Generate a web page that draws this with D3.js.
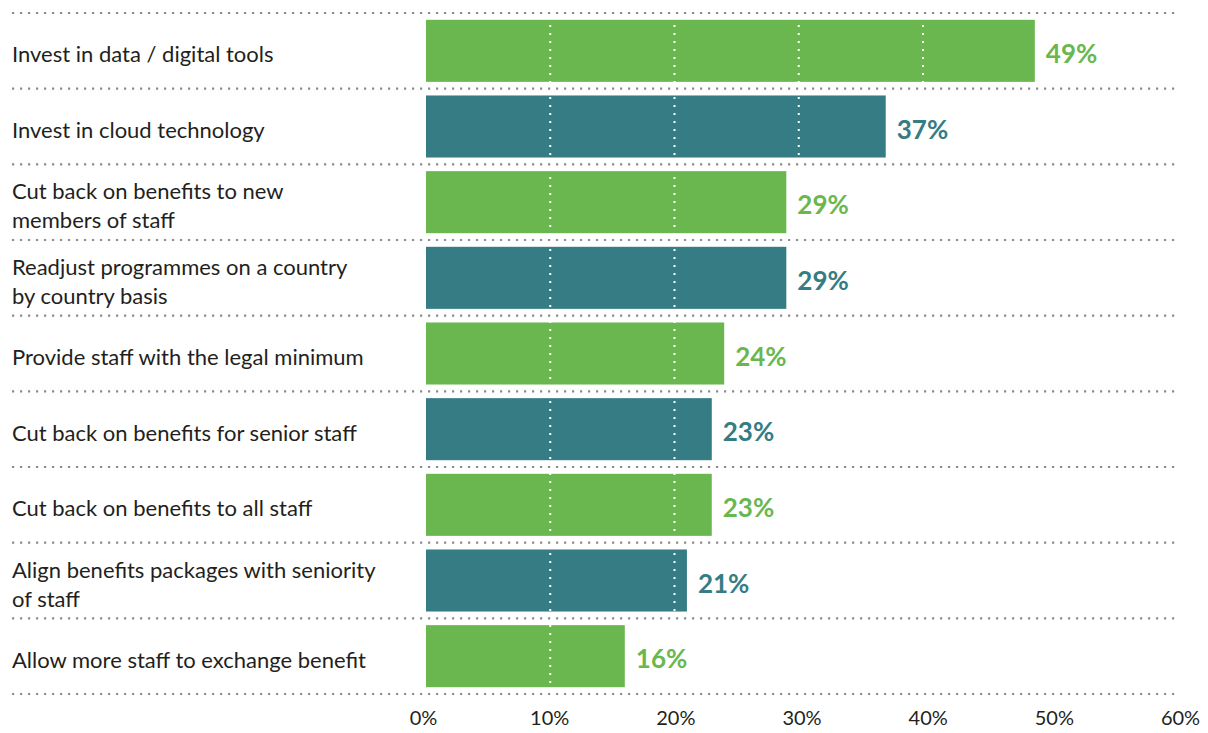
<!DOCTYPE html>
<html>
<head>
<meta charset="utf-8">
<script src="https://cdn.jsdelivr.net/npm/d3@7/dist/d3.min.js"></script>
<style>
  html, body { margin: 0; padding: 0; background: #fff; }
  svg { display: block; }
  text { font-family: Lato, "Open Sans", sans-serif; }
</style>
</head>
<body>
<svg id="chart" width="1208" height="733"></svg>
<script>
// Survey responses: share of organisations planning each action
const categories = [
  "Invest in data / digital tools",
  "Invest in cloud technology",
  "Cut back on benefits to new\nmembers of staff",
  "Readjust programmes on a country\nby country basis",
  "Provide staff with the legal minimum",
  "Cut back on benefits for senior staff",
  "Cut back on benefits to all staff",
  "Align benefits packages with seniority\nof staff",
  "Allow more staff to exchange benefit"
];
const values = [49, 37, 29, 29, 24, 23, 23, 21, 16];
const tickValues = [0, 10, 20, 30, 40, 50, 60];
const barColors = ["#6ab750", "#357c84"];

const svg = d3.select("#chart");

const x = d3.scaleLinear().domain([0, 60]).range([426, 1171.5]);
// axis labels sit on a slightly wider spread than the bars
const xAxisScale = d3.scaleLinear().domain([0, 60]).range([423, 1180]);
const y = d3.scaleBand().domain(categories).range([13, 694])
  .paddingInner(0.18).paddingOuter(0.09);

const step = y.step();
const gap = (step - y.bandwidth()) / 2;

// bars
svg.append("g").selectAll("rect")
  .data(categories)
  .join("rect")
  .attr("x", x(0))
  .attr("y", d => y(d))
  .attr("width", (d, i) => x(values[i]) - x(0))
  .attr("height", y.bandwidth())
  .attr("fill", (d, i) => barColors[i % 2]);

// white dotted gridlines across the bars
svg.append("g").selectAll("line")
  .data(tickValues.filter(t => t > 0))
  .join("line")
  .attr("x1", d => x(d)).attr("x2", d => x(d))
  .attr("y1", y.range()[0] + 12).attr("y2", y.range()[1] - 6)
  .attr("stroke", "#fff")
  .attr("stroke-width", 2)
  .attr("stroke-dasharray", "2 6");

// grey dotted row separators
const sepYs = categories.map(d => y(d) - gap).concat([y(categories[categories.length - 1]) + y.bandwidth() + gap]);
svg.append("g").selectAll("line")
  .data(sepYs)
  .join("line")
  .attr("x1", 12).attr("x2", 1176)
  .attr("y1", d => d).attr("y2", d => d)
  .attr("stroke", "#8c8c8c")
  .attr("stroke-width", 2.2)
  .attr("stroke-dasharray", "2.2 5.8");

// category labels
const lineH = 29;
svg.append("g").selectAll("text")
  .data(categories)
  .join("text")
  .attr("x", 12)
  .attr("fill", "#231f20")
  .style("font-size", "22px")
  .each(function(d) {
    const lines = d.split("\n");
    const cy = y(d) + y.bandwidth() / 2;
    const first = cy + 11.5 - (lines.length - 1) * lineH / 2;
    d3.select(this).selectAll("tspan")
      .data(lines)
      .join("tspan")
      .attr("x", 12)
      .attr("y", (l, k) => first + k * lineH)
      .text(l => l);
  });

// value labels
svg.append("g").selectAll("text")
  .data(categories)
  .join("text")
  .attr("x", (d, i) => x(values[i]) + 11)
  .attr("y", d => y(d) + y.bandwidth() / 2 + 12)
  .attr("fill", (d, i) => barColors[i % 2])
  .style("font-size", "26px")
  .style("font-weight", "bold")
  .text((d, i) => values[i] + "%");

// x axis labels
const axis = svg.append("g")
  .attr("transform", "translate(0,706)")
  .call(d3.axisBottom(xAxisScale).tickValues(tickValues).tickSize(0).tickPadding(0).tickFormat(d => d + "%"));
axis.select(".domain").remove();
axis.selectAll("text")
  .attr("dy", 0)
  .attr("y", 19)
  .attr("fill", "#231f20")
  .style("font-family", "Lato, sans-serif")
  .style("font-size", "20px");
</script>
</body>
</html>
